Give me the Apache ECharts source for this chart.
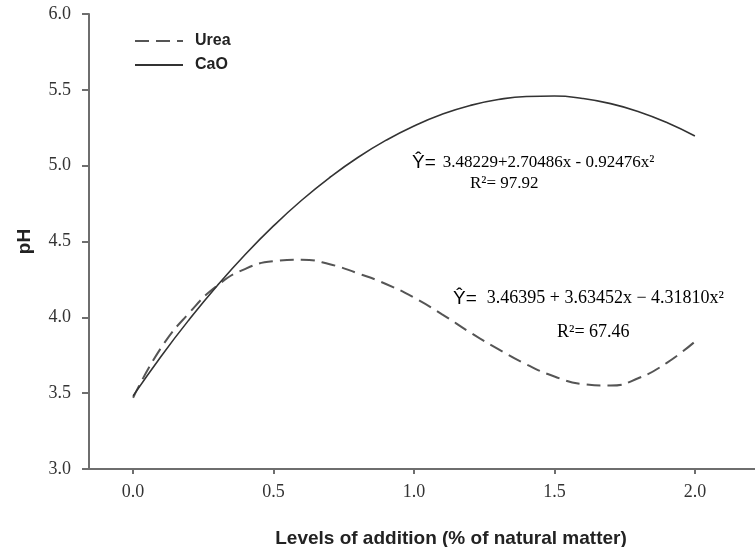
<!DOCTYPE html>
<html>
<head>
<meta charset="utf-8">
<script src="https://cdn.jsdelivr.net/npm/echarts@6/dist/echarts.min.js"></script>
<style>
  html, body { margin: 0; padding: 0; background: #fff; }
  #chart { width: 755px; height: 547px; }
</style>
</head>
<body>
<div id="chart"></div>
<script>
// levels of addition (% of natural matter)
const levels = [0, 0.1, 0.2, 0.3, 0.4, 0.5, 0.6, 0.7, 0.8, 0.9, 1.0,
                1.1, 1.2, 1.3, 1.4, 1.5, 1.6, 1.7, 1.8, 1.9, 2.0];
const ureaPh = [3.47, 3.80, 4.03, 4.21, 4.32, 4.37, 4.38, 4.35, 4.29, 4.22, 4.13,
                4.02, 3.90, 3.79, 3.69, 3.61, 3.56, 3.55, 3.60, 3.70, 3.84];
const caoPh = [3.482, 3.744, 3.986, 4.210, 4.416, 4.603, 4.772, 4.922, 5.054, 5.167, 5.262,
               5.339, 5.397, 5.436, 5.456, 5.459, 5.443, 5.409, 5.356, 5.285, 5.196];
const xTicks = [0, 0.5, 1.0, 1.5, 2.0];

const serif = '"Liberation Serif", "DejaVu Serif", serif';
const sans = '"Liberation Sans", Arial, sans-serif';
const axisColor = '#6e6e6e';

const toPairs = (ys) => levels.map((x, i) => [x, ys[i]]);

const eqStyle = (size, gap) => ({
    h: { fontFamily: sans, fontSize: 19, color: '#222', padding: [0, gap, 0, 0] },
    n: { fontFamily: serif, fontSize: size, color: '#222' }
});

const chart = echarts.init(document.getElementById('chart'));
chart.setOption({
    animation: false,
    grid: { left: 89, right: 0, top: 14, bottom: 78, outerBoundsMode: 'none' },
    legend: {
        orient: 'vertical',
        left: 134,
        top: 33,
        padding: 0,
        itemWidth: 48,
        itemHeight: 14,
        itemGap: 8,
        itemStyle: { opacity: 0 },
        textStyle: {
            fontFamily: sans, fontWeight: 'bold', fontSize: 16, color: '#222',
            padding: [0, 0, 0, 7]
        },
        data: ['Urea', 'CaO']
    },
    xAxis: {
        type: 'value',
        min: -0.157,
        max: 2.214,
        name: 'Levels of addition (% of natural matter)',
        nameLocation: 'middle',
        nameGap: 60,
        nameTextStyle: {
            fontFamily: sans, fontWeight: 'bold', fontSize: 19, color: '#222',
            padding: [0, 0, 0, 58]
        },
        axisLine: { onZero: false, lineStyle: { color: axisColor, width: 2 } },
        axisTick: { customValues: xTicks, length: 5, lineStyle: { color: axisColor, width: 2 } },
        axisLabel: {
            customValues: xTicks,
            margin: 14,
            fontFamily: serif, fontSize: 18, color: '#333',
            formatter: (v) => v.toFixed(1)
        },
        splitLine: { show: false }
    },
    yAxis: {
        type: 'value',
        min: 3,
        max: 6,
        interval: 0.5,
        name: 'pH',
        nameLocation: 'middle',
        nameGap: 55,
        nameTextStyle: { fontFamily: sans, fontWeight: 'bold', fontSize: 19, color: '#222' },
        axisLine: { show: true, onZero: false, lineStyle: { color: axisColor, width: 2 } },
        axisTick: { show: true, length: 7, lineStyle: { color: axisColor, width: 2 } },
        axisLabel: {
            margin: 18,
            fontFamily: serif, fontSize: 18, color: '#333',
            formatter: (v) => v.toFixed(1)
        },
        splitLine: { show: false }
    },
    series: [
        {
            name: 'Urea',
            type: 'line',
            smooth: true,
            symbol: 'none',
            data: toPairs(ureaPh),
            lineStyle: { color: '#555', width: 2, type: [14, 7] },
            itemStyle: { color: '#555' }
        },
        {
            name: 'CaO',
            type: 'line',
            smooth: true,
            symbol: 'none',
            data: toPairs(caoPh),
            lineStyle: { color: '#333', width: 1.6 },
            itemStyle: { color: '#333' }
        }
    ],
    graphic: [
        {
            type: 'text', left: 412, top: 153,
            style: { text: '{h|Ŷ=}{n|3.48229+2.70486x - 0.92476x²}', rich: eqStyle(17, 7) }
        },
        {
            type: 'text', left: 470, top: 175,
            style: { text: '{n|R²= 97.92}', rich: eqStyle(17, 0) }
        },
        {
            type: 'text', left: 453, top: 289,
            style: { text: '{h|Ŷ=}{n|3.46395 + 3.63452x − 4.31810x²}', rich: eqStyle(18, 10) }
        },
        {
            type: 'text', left: 557, top: 323,
            style: { text: '{n|R²= 67.46}', rich: eqStyle(18, 0) }
        }
    ]
});
</script>
</body>
</html>
